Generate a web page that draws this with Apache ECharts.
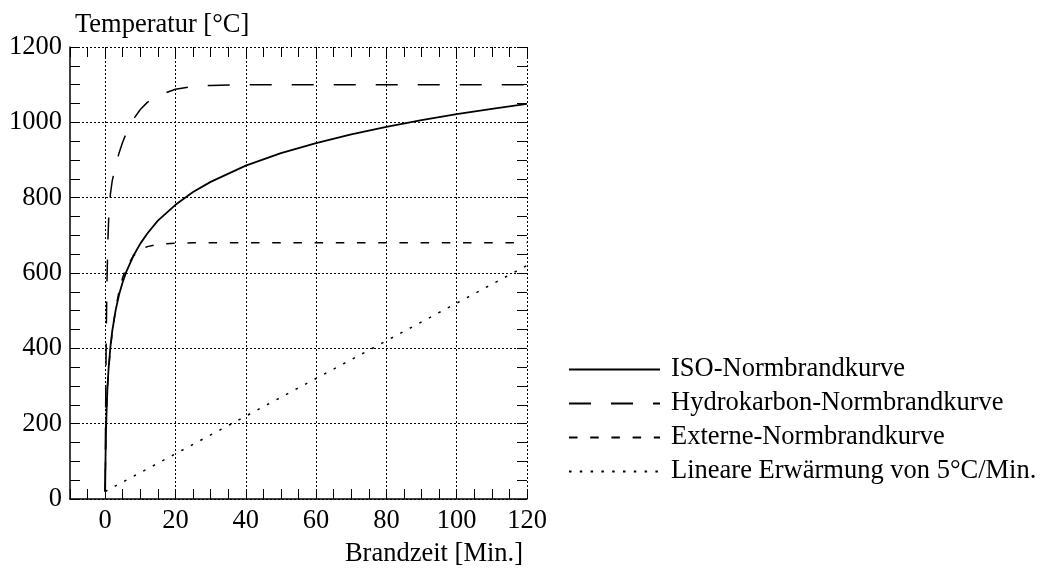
<!DOCTYPE html>
<html>
<head>
<meta charset="utf-8">
<script src="https://cdn.jsdelivr.net/npm/echarts@6/dist/echarts.min.js"></script>
<style>
  html, body { margin: 0; padding: 0; background: #fff; }
  #chart { width: 1042px; height: 568px; }
</style>
</head>
<body>
<div id="chart"></div>
<script>
// ---- data ----
const seriesNames = ['ISO-Normbrandkurve', 'Hydrokarbon-Normbrandkurve', 'Externe-Normbrandkurve', 'Lineare Erwärmung von 5°C/Min.'];

const isoTime = [0, 0.1, 0.25, 0.5, 0.75, 1, 1.5, 2, 3, 4, 5, 6, 8, 10, 12, 15, 20, 25, 30, 40, 50, 60, 70, 80, 90, 100, 110, 120];
const isoTemp = [20, 108, 185, 261, 312, 349, 404, 445, 502, 544, 576, 603, 645, 678, 705, 739, 781, 815, 842, 885, 918, 945, 968, 988, 1006, 1022, 1036, 1049];

const hcTime = [0, 0.1, 0.2, 0.3, 0.5, 0.75, 1, 1.5, 2, 3, 4, 5, 6, 8, 10, 12, 15, 20, 25, 30, 40, 60, 80, 100, 120];
const hcTemp = [20, 187, 318, 422, 568, 679, 743, 810, 844, 887, 920, 948, 971, 1008, 1034, 1053, 1071, 1088, 1095, 1098, 1100, 1100, 1100, 1100, 1100];

const extTime = [0, 0.1, 0.25, 0.5, 0.75, 1, 1.5, 2, 3, 4, 5, 6, 8, 10, 12, 15, 20, 25, 40, 60, 80, 100, 120];
const extTemp = [20, 100, 182, 263, 311, 346, 399, 441, 506, 554, 588, 614, 645, 662, 670, 676, 679, 680, 680, 680, 680, 680, 680];

const linTime = [0, 120];
const linTemp = [20, 620];

const xGridTicks = [0, 20, 40, 60, 80, 100, 120];
const xMin = -10, xMax = 120;
const yMin = 0, yMax = 1200;

// ---- chart ----
const FONT = "'Liberation Serif', 'DejaVu Serif', serif";
const FS = 26.5;
const zip = (a, b) => a.map((v, i) => [v, b[i]]);
const chart = echarts.init(document.getElementById('chart'), null, { renderer: 'canvas' });

const tickStyle = { color: '#000', width: 1 };
const gridLine = { type: [2, 2], color: '#000', width: 1 };

function xAxisDef(pos, showLabels) {
  return {
    type: 'value', position: pos, min: xMin, max: xMax, interval: 5,
    axisLine: { show: pos === 'bottom', onZero: false, lineStyle: { color: '#000', width: 1.5 } },
    axisTick: { show: true, inside: true, length: 10, lineStyle: tickStyle },
    splitLine: { show: false },
    axisLabel: {
      show: showLabels, color: '#000', fontFamily: FONT, fontSize: FS, margin: 9,
      formatter: v => (xGridTicks.indexOf(v) >= 0 ? String(v) : '')
    },
    name: showLabels ? 'Brandzeit [Min.]' : '',
    nameLocation: 'end', nameGap: -4,
    nameTextStyle: { color: '#000', fontFamily: FONT, fontSize: FS, align: 'right', verticalAlign: 'top', padding: [42, 0, 0, 0] }
  };
}
function yAxisDef(pos, showLabels) {
  return {
    type: 'value', position: pos, min: yMin, max: yMax, interval: 200,
    axisLine: { show: pos === 'left', onZero: false, lineStyle: { color: '#000', width: 1.5 } },
    axisTick: { show: true, inside: true, length: 10, lineStyle: tickStyle },
    minorTick: { show: true, splitNumber: 4, length: 10, lineStyle: tickStyle },
    splitLine: { show: pos === 'left', lineStyle: gridLine },
    axisLabel: { show: showLabels, color: '#000', fontFamily: FONT, fontSize: FS, margin: 8, formatter: v => String(v) },
    name: showLabels ? 'Temperatur [°C]' : '',
    nameLocation: 'end', nameGap: 8,
    nameTextStyle: { color: '#000', fontFamily: FONT, fontSize: FS, align: 'left', verticalAlign: 'bottom', padding: [0, 0, 0, 5] }
  };
}

const base = { type: 'line', showSymbol: false, symbol: 'none', xAxisIndex: 0, yAxisIndex: 0, z: 3, color: '#000', itemStyle: { color: '#000' } };
const option = {
  animation: false,
  backgroundColor: '#fff',
  color: ['#000', '#000', '#000', '#000'],
  textStyle: { fontFamily: FONT },
  grid: { left: 70, right: 515, top: 47, bottom: 69, containLabel: false },
  xAxis: [xAxisDef('bottom', true), xAxisDef('top', false)],
  yAxis: [yAxisDef('left', true), yAxisDef('right', false)],
  legend: {
    orient: 'vertical', left: 563, top: 351,
    itemWidth: 91, itemHeight: 14, itemGap: 7,
    itemStyle: { opacity: 0, borderWidth: 0 },
    textStyle: { color: '#000', fontFamily: FONT, fontSize: FS, padding: [0, 0, 0, 6] },
    data: seriesNames
  },
  series: [
    Object.assign({}, base, { name: seriesNames[0], data: zip(isoTime, isoTemp), lineStyle: { color: '#000', width: 1.8, type: 'solid' } }),
    Object.assign({}, base, { name: seriesNames[1], data: zip(hcTime, hcTemp), lineStyle: { color: '#000', width: 1.5, type: [22, 20] } }),
    Object.assign({}, base, { name: seriesNames[2], data: zip(extTime, extTemp), lineStyle: { color: '#000', width: 1.5, type: [8.5, 12.7] } }),
    Object.assign({}, base, {
      name: seriesNames[3], data: zip(linTime, linTemp), lineStyle: { color: '#000', width: 1.5, type: [2.5, 8.3] },
      markLine: {
        silent: true, symbol: ['none', 'none'], label: { show: false }, z: 1,
        lineStyle: gridLine,
        emphasis: { disabled: true },
        data: xGridTicks.map(v => ({ xAxis: v }))
      }
    })
  ]
};
chart.setOption(option);
</script>
</body>
</html>
